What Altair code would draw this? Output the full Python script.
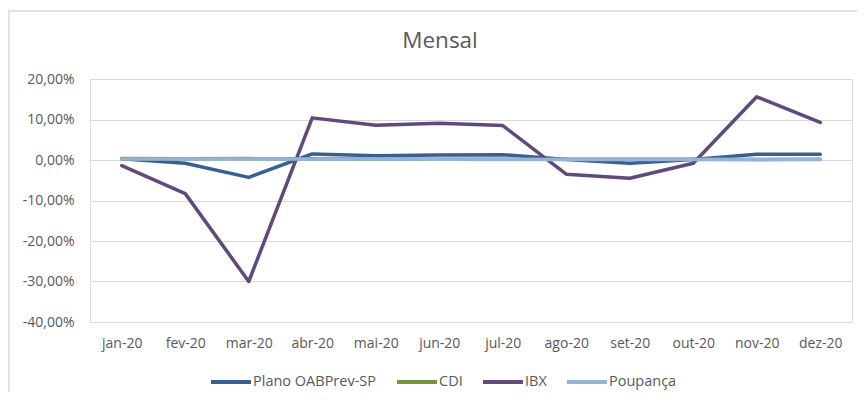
import altair as alt
import pandas as pd

months = ["jan-20", "fev-20", "mar-20", "abr-20", "mai-20", "jun-20",
          "jul-20", "ago-20", "set-20", "out-20", "nov-20", "dez-20"]
series_names = ["Plano OABPrev-SP", "CDI", "IBX", "Poupança"]
plano = [0.30, -0.80, -4.30, 1.50, 1.05, 1.25, 1.30, 0.15, -0.80, 0.10, 1.40, 1.45]
cdi = [0.38, 0.29, 0.34, 0.28, 0.24, 0.21, 0.19, 0.16, 0.16, 0.16, 0.15, 0.16]
ibx = [-1.40, -8.30, -30.00, 10.40, 8.60, 9.10, 8.50, -3.50, -4.50, -0.80, 15.60, 9.30]
poupanca = [0.26, 0.26, 0.24, 0.22, 0.22, 0.17, 0.13, 0.13, 0.12, 0.12, 0.12, 0.12]
colors = ["#376092", "#77933C", "#604A7B", "#95B3D7"]
title_text = "Mensal"

rows = []
for name, vals, order in zip(series_names, [plano, cdi, ibx, poupanca], range(4)):
    for m, v in zip(months, vals):
        rows.append({"mes": m, "serie": name, "valor": v / 100.0, "ordem": order})
df = pd.DataFrame(rows)

font = "Open Sans"

frame = alt.Chart(pd.DataFrame({"a": [0]})).mark_rect(
    fill=None, stroke="#D9D9D9", strokeWidth=1.5
).encode(
    x=alt.value(-81), x2=alt.value(800), y=alt.value(-68), y2=alt.value(330)
)

title = alt.Chart(pd.DataFrame({"t": [title_text]})).mark_text(
    font=font, fontSize=22.5, color="#595959", align="center", baseline="alphabetic"
).encode(text="t:N", x=alt.value(350), y=alt.value(-31))

lines = alt.Chart(df).mark_line(strokeWidth=3.5, strokeCap="round", strokeJoin="round").encode(
    x=alt.X("mes:N", sort=months, scale=alt.Scale(type="point", padding=0.5),
            axis=alt.Axis(title=None, labelAngle=0, ticks=False, domain=False, grid=False,
                          labelFontSize=14, labelColor="#595959", labelFont=font,
                          labelPadding=14)),
    y=alt.Y("valor:Q", scale=alt.Scale(domain=[-0.4, 0.2]),
            axis=alt.Axis(title=None, format=".2%", values=[-0.4, -0.3, -0.2, -0.1, 0, 0.1, 0.2],
                          ticks=False, domain=False, gridColor="#D9D9D9", gridWidth=1,
                          labelFontSize=14, labelColor="#595959", labelFont=font,
                          labelPadding=16)),
    color=alt.Color("serie:N", sort=series_names,
                    scale=alt.Scale(domain=series_names, range=colors),
                    legend=alt.Legend(title=None, orient="none", direction="horizontal",
                                      legendX=119, legendY=281,
                                      symbolType="stroke", symbolSize=1600, symbolStrokeWidth=4,
                                      labelFontSize=14.5, labelColor="#595959", labelFont=font,
                                      labelOffset=0, columnPadding=12)),
    order=alt.Order("ordem:Q"),
    detail="serie:N",
)

chart = alt.layer(frame, title, lines).properties(
    width=762, height=243,
    autosize=alt.AutoSizeParams(type="none"),
    padding={"left": 82, "top": 71, "right": 5, "bottom": 70},
).configure_view(stroke=None).configure(
    locale={"number": {"decimal": ",", "thousands": ".", "grouping": [3],
                       "currency": ["R$", ""], "minus": "-"}}
)

chart.save("out.html", embed_options={"renderer": "svg", "actions": False})
